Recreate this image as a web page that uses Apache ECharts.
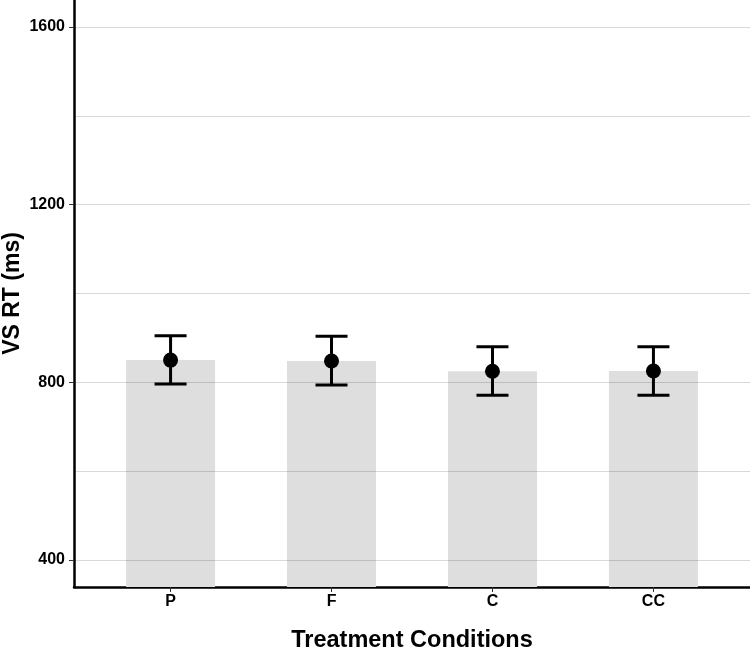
<!DOCTYPE html>
<html>
<head>
<meta charset="utf-8">
<script src="https://cdn.jsdelivr.net/npm/echarts@6/dist/echarts.min.js"></script>
<style>html,body{margin:0;padding:0;background:#fff}#chart{width:750px;height:649px}</style>
</head>
<body>
<div id="chart"></div>
<script>
const categories = ['P', 'F', 'C', 'CC'];
const means = [850, 848, 825, 825.5];
const errLow = [796, 794, 771, 771];
const errHigh = [905, 904, 880, 880];
const yTickLabels = [400, 800, 1200, 1600];
const gridValues = [400, 600, 800, 1000, 1200, 1400, 1600];

const FONT = '"Liberation Sans", Arial, sans-serif';
const xIdx = categories.map((c, i) => i);

const chart = echarts.init(document.getElementById('chart'), null, {renderer: 'canvas'});
chart.setOption({
  animation: false,
  backgroundColor: '#ffffff',
  grid: {left: 74, right: 0, top: 0, bottom: 62, containLabel: false, outerBoundsMode: 'none'},
  xAxis: {
    type: 'value', min: -0.6, max: 3.6,
    name: 'Treatment Conditions', nameLocation: 'middle', nameGap: 42, nameMoveOverlap: false,
    nameTextStyle: {fontFamily: FONT, fontWeight: 'bold', fontSize: 23.5, color: '#000'},
    axisLine: {show: true, onZero: false, lineStyle: {color: '#000', width: 2.5}},
    axisTick: {show: true, length: 5, customValues: xIdx, lineStyle: {color: '#333', width: 1}},
    axisLabel: {customValues: xIdx, margin: 7, fontFamily: FONT, fontWeight: 'bold', fontSize: 16, color: '#000',
      formatter: v => categories[Math.round(v)]},
    splitLine: {show: false}
  },
  yAxis: {
    type: 'value', min: 339, max: 1661,
    name: 'VS RT (ms)', nameLocation: 'middle', nameGap: 50, nameRotate: 90, nameMoveOverlap: false,
    nameTextStyle: {fontFamily: FONT, fontWeight: 'bold', fontSize: 23, color: '#000'},
    axisLine: {show: true, onZero: false, lineStyle: {color: '#000', width: 2.5}},
    axisTick: {show: true, length: 5, customValues: yTickLabels, lineStyle: {color: '#333', width: 1}},
    axisLabel: {customValues: yTickLabels, margin: 9, fontFamily: FONT, fontWeight: 'bold', fontSize: 16, color: '#000',
      formatter: v => String(v)},
    splitLine: {show: false}
  },
  series: [
    {
      type: 'bar', barWidth: 89, z: 1,
      itemStyle: {color: '#dedede'},
      data: means.map((m, i) => [i, m])
    },
    {
      type: 'line', data: [], silent: true, z: 2,
      markLine: {
        z: 2, silent: true, symbol: ['none', 'none'], label: {show: false},
        lineStyle: {color: 'rgba(0,0,0,0.15)', width: 1, type: 'solid'},
        data: gridValues.map(v => ({yAxis: v}))
      }
    },
    {
      type: 'custom', z: 3,
      data: means.map((m, i) => [i, errLow[i], errHigh[i]]),
      renderItem: function (params, api) {
        const lo = api.coord([api.value(0), api.value(1)]);
        const hi = api.coord([api.value(0), api.value(2)]);
        const hw = 16;
        const st = {stroke: '#000', lineWidth: 3};
        return {type: 'group', children: [
          {type: 'line', shape: {x1: lo[0], y1: lo[1], x2: hi[0], y2: hi[1]}, style: st},
          {type: 'line', shape: {x1: lo[0] - hw, y1: lo[1], x2: lo[0] + hw, y2: lo[1]}, style: st},
          {type: 'line', shape: {x1: hi[0] - hw, y1: hi[1], x2: hi[0] + hw, y2: hi[1]}, style: st}
        ]};
      }
    },
    {
      type: 'scatter', z: 4, symbol: 'circle', symbolSize: 15,
      itemStyle: {color: '#000', opacity: 1},
      data: means.map((m, i) => [i, m])
    }
  ]
});
</script>
</body>
</html>
